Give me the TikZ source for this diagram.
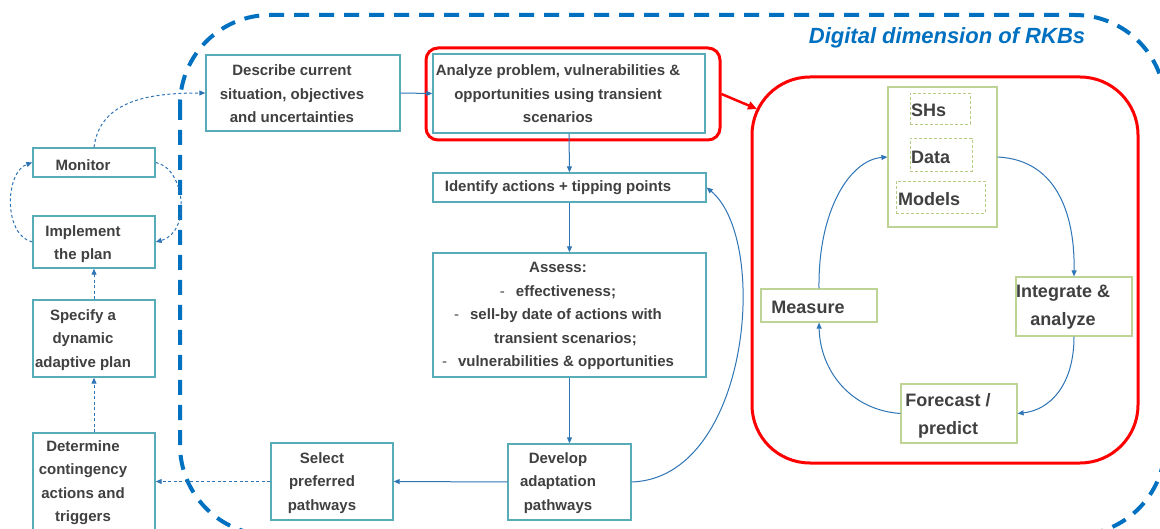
\documentclass[tikz,border=0pt]{standalone}
\usepackage{fontspec}
\setmainfont{Liberation Sans}
\usetikzlibrary{arrows.meta}
\definecolor{boxteal}{RGB}{88,172,184}
\definecolor{flow}{RGB}{46,117,182}
\definecolor{dimblue}{RGB}{0,112,192}
\definecolor{panelred}{RGB}{255,0,0}
\definecolor{leaf}{RGB}{190,212,150}
\definecolor{leafdash}{RGB}{180,205,130}
\definecolor{ink}{RGB}{64,64,64}

\begin{document}
\begin{tikzpicture}[x=1pt,y=-1pt,
  wh/.style 2 args={minimum width=#1pt, minimum height=#2pt},
  stepbox/.style={draw=boxteal, line width=1.4pt, fill=white, inner sep=0pt},
  leafbox/.style={draw=leaf, line width=1.2pt, fill=white, inner sep=0pt},
  itembox/.style={draw=leafdash, line width=0.9pt, dash pattern=on 3pt off 2pt, inner sep=0pt},
  txt/.style={text=ink, font=\bfseries\fontsize{15}{23.5}\selectfont, align=center, inner sep=0pt},
  bigtxt/.style={text=ink, font=\bfseries\fontsize{18}{28}\selectfont, align=center, inner sep=0pt},
  flowarrow/.style={draw=flow, line width=1pt, -{Triangle[length=6pt,width=5pt]}},
  dasharrow/.style={flowarrow, dash pattern=on 3pt off 2.5pt},
  redarrow/.style={draw=panelred, line width=2.5pt, -{Triangle[length=9pt,width=8pt]}}]

\useasboundingbox (0,0) rectangle (1160,529);
\fill[white] (0,0) rectangle (1160,529);

% outer boundary of the digital dimension
\draw[dimblue, line width=4pt, dash pattern=on 15pt off 10pt, rounded corners=90pt]
  (180,15) rectangle (1165,535);
\node[text=dimblue, font=\bfseries\itshape\fontsize{22}{26}\selectfont, inner sep=0pt]
  (title) at (947,38) {Digital dimension of RKBs};

% red highlight around the analysis step and the RKB panel
\node[draw=panelred, line width=3pt, rounded corners=12pt, wh={294}{92}, inner sep=0pt]
  (anared) at (573,94) {};
\node[draw=panelred, line width=3pt, rounded corners=58pt, wh={386}{386}, inner sep=0pt]
  (rkb) at (945,270) {};
\coordinate (rkbin) at (757,109);

% main sequence of steps
\node[stepbox, wh={194}{76}] (desc) at (303,93) {};
\node[txt] (desct) at (292,94) {Describe current\\situation, objectives\\and uncertainties};

\node[stepbox, wh={272}{79}] (ana) at (569,93.5) {};
\node[txt] (anat) at (558,94) {Analyze problem, vulnerabilities \&\\opportunities using transient\\scenarios};

\node[stepbox, wh={273}{29}] (ident) at (569.5,187.5) {};
\node[txt] (identt) at (558,188) {Identify actions + tipping points};

\node[stepbox, wh={273}{124}] (assess) at (569.5,315) {};
\node[txt] (assesst) at (558,316) {Assess:\\
  {\mdseries -}\hspace{11pt}effectiveness;\\
  {\mdseries -}\hspace{11pt}sell-by date of actions with\\
  \hspace*{15pt}transient scenarios;\\
  {\mdseries -}\hspace{11pt}vulnerabilities \& opportunities};

\node[stepbox, wh={123}{76}] (develop) at (569.5,482) {};
\node[txt] (developt) at (558,483) {Develop\\adaptation\\pathways};

\node[stepbox, wh={122}{77}] (select) at (332,481.5) {};
\node[txt] (selectt) at (322,483) {Select\\preferred\\pathways};

% implementation column
\node[stepbox, wh={122}{29}] (monitor) at (94,162.5) {};
\node[txt] (monitort) at (83,165) {Monitor};

\node[stepbox, wh={122}{52}] (implement) at (94,242) {};
\node[txt] (implementt) at (83,244) {Implement\\the plan};

\node[stepbox, wh={122}{77}] (specify) at (94,338.5) {};
\node[txt] (specifyt) at (83,340) {Specify a\\dynamic\\adaptive plan};

\node[stepbox, wh={122}{104}] (determine) at (94,485) {};
\node[txt] (determinet) at (83,482.5) {Determine\\contingency\\actions and\\triggers};

% RKB cycle
\node[leafbox, wh={109}{140}] (core) at (942.5,157) {};
\node[itembox, wh={60}{31}] (shs) at (940,108.5) {};
\node[bigtxt, anchor=west] (shst) at (911,110) {SHs};
\node[itembox, wh={62}{33}] (data) at (941,154.5) {};
\node[bigtxt, anchor=west] (datat) at (911,157) {Data};
\node[itembox, wh={89}{32}] (models) at (940.5,197) {};
\node[bigtxt, anchor=west] (modelst) at (898,199) {Models};

\node[leafbox, wh={116}{59}] (integrate) at (1074,306.5) {};
\node[bigtxt] (integratet) at (1063,307) {Integrate \&\\analyze};
\node[leafbox, wh={116}{33}] (measure) at (819,305.5) {};
\node[bigtxt] (measuret) at (808,307) {Measure};
\node[leafbox, wh={116}{59}] (forecast) at (959,413.5) {};
\node[bigtxt] (forecastt) at (948,416) {Forecast /\\predict};

% connectors of the main sequence
\draw[flowarrow] (desc.east) -- (ana.west);
\draw[flowarrow] (ana.south) -- (ident.north);
\draw[flowarrow] (ident.south) -- (assess.north);
\draw[flowarrow] (assess.south) -- (develop.north);
\draw[flowarrow] (develop.west) -- (select.east);
\draw[flowarrow] (develop.east) .. controls (750,478) and (770,240) .. (ident.east);
\draw[redarrow] (anared.east) -- (rkbin);

% connectors of the implementation column
\draw[dasharrow] (select.west) -- (select.west -| determine.east);
\draw[dasharrow] (determine.north) -- (specify.south);
\draw[dasharrow] (specify.north) -- (implement.south);
\draw[dasharrow] (implement.west) .. controls (3,235) and (5,172) .. (monitor.west);
\draw[dasharrow] (monitor.east) .. controls (185,168) and (192,232) .. (implement.east);
\draw[dasharrow] (monitor.north) .. controls (100,100) and (150,93) .. (desc.west);

% connectors of the RKB cycle
\draw[flowarrow] (core.east) .. controls (1060,160) and (1075,220) .. (integrate.north);
\draw[flowarrow] (integrate.south) .. controls (1074,385) and (1050,410) .. (forecast.east);
\draw[flowarrow] (forecast.west) .. controls (850,410) and (820,370) .. (measure.south);
\draw[flowarrow] (measure.north) .. controls (818,210) and (850,160) .. (core.west);

\end{tikzpicture}
\end{document}
